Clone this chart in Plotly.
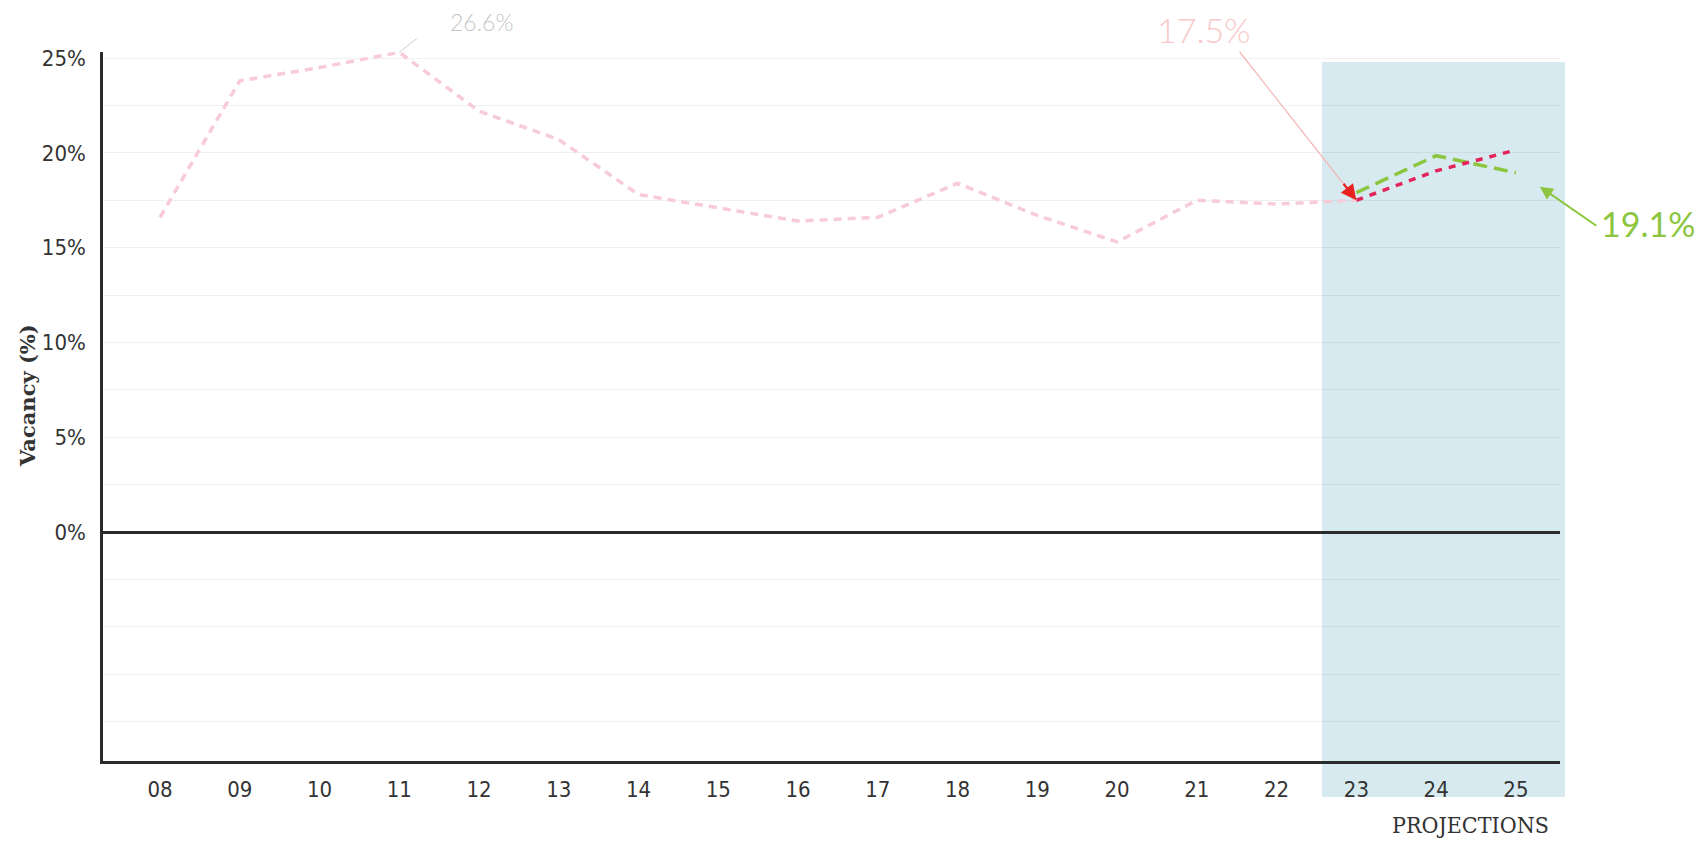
import plotly.graph_objects as go

years = ['08', '09', '10', '11', '12', '13', '14', '15', '16', '17', '18', '19',
         '20', '21', '22', '23', '24', '25']
history = [16.6, 23.8, 24.5, 25.3, 22.2, 20.7, 17.8, 17.1, 16.4, 16.6, 18.4, 16.7,
           15.3, 17.5, 17.3, 17.5, None, None]
proj_red = [None] * 15 + [17.5, 19.05, 20.15]
proj_green = [None] * 15 + [17.9, 19.85, 18.95]

grid_vals = [-10, -7.5, -5, -2.5, 0, 2.5, 5, 7.5, 10, 12.5, 15, 17.5, 20, 22.5, 25]
grid_text = ['', '', '', '', '0%', '', '5%', '', '10%', '', '15%', '', '20%', '', '25%']

# page body has an 8px margin: work in reference pixels and subtract it
OFF = 8
W, H = 1702 - 2 * OFF, 846 - 2 * OFF
L_PX, R_PX, T_PX, B_PX = 103, 1560, 52, 761   # plot area edges in reference pixels
ML, MT = L_PX - OFF, T_PX - OFF
MR, MB = W - (R_PX - OFF), H - (B_PX - OFF)
PW, PH = R_PX - L_PX, B_PX - T_PX


def px(x):
    return (x - L_PX) / PW


def py(y):
    return (B_PX - y) / PH


fig = go.Figure()
fig.add_trace(go.Scatter(x=years, y=history, mode='lines',
                         line=dict(color='#f7cbd8', width=3.5, dash='8px,6px'),
                         hoverinfo='skip'))
fig.add_trace(go.Scatter(x=years, y=proj_green, mode='lines',
                         line=dict(color='#8cc63f', width=3.5, dash='14px,7px'),
                         hoverinfo='skip'))
fig.add_trace(go.Scatter(x=years, y=proj_red, mode='lines',
                         line=dict(color='#e3245a', width=3.5, dash='7px,7px'),
                         hoverinfo='skip'))

shapes = [
    dict(type='rect', xref='paper', yref='paper', x0=px(1322), x1=px(1565),
         y0=py(797), y1=py(62), fillcolor='#d6eaf0', line=dict(width=0), layer='below'),
]

TXT = '#333333'
i11, i23, i25 = years.index('11'), years.index('23'), years.index('25')


def label(text, x, y, size, color, family='Lato', weight=None, angle=0):
    f = dict(family=family, size=size, color=color)
    if weight:
        f['weight'] = weight
    return dict(text=text, xref='paper', yref='paper', x=px(x), y=py(y),
                xanchor='center', yanchor='middle', showarrow=False, borderpad=0,
                textangle=angle, font=f)


annotations = [
    label('Vacancy (%)', 27, 396, 21, TXT, family='DejaVu Serif', weight='bold', angle=-90),
    label('PROJECTIONS', 1470, 825, 23, TXT, family='DejaVu Serif Condensed, DejaVu Serif'),
    label('26.6%', 481, 22, 23, '#c6c6c6', weight=300),
    dict(text='', x=i11, y=history[i11], ax=19, ay=-15, showarrow=True, arrowhead=0,
         arrowcolor='#cccccc', arrowwidth=1),
    label('17.5%', 1204, 29, 34, '#f8c9c9', weight=300),
    dict(text='', x=i23, y=proj_red[i23], ax=-118, ay=-150, showarrow=True, arrowhead=0,
         arrowcolor='#f5b8b8', arrowwidth=1.3),
    dict(text='', x=i23, y=proj_red[i23], ax=-14, ay=-18, showarrow=True, arrowhead=2,
         arrowsize=1.4, arrowcolor='#e8231f', arrowwidth=2.2),
    label('19.1%', 1648, 224, 34, '#8cc63f'),
    dict(text='', x=i25, y=proj_green[i25], xshift=24, yshift=-14, ax=58, ay=40,
         showarrow=True, arrowhead=2, arrowsize=1.3, arrowcolor='#8cc63f', arrowwidth=2),
]

fig.update_layout(
    width=W, height=H,
    margin=dict(l=ML, r=MR, t=MT, b=MB),
    paper_bgcolor='white', plot_bgcolor='rgba(0,0,0,0)',
    showlegend=False,
    shapes=shapes, annotations=annotations,
    xaxis=dict(type='category', range=[-0.715, 17.553], showgrid=False,
               showline=True, linecolor='#2b2b2b', linewidth=2.5, ticks='',
               ticklabelstandoff=7,
               tickfont=dict(family='Liberation Sans Narrow, DejaVu Sans Condensed, sans-serif',
                             size=22, color=TXT),
               zeroline=False, fixedrange=True),
    yaxis=dict(range=[-12.08, 25.32], tickvals=grid_vals, ticktext=grid_text,
               showgrid=True, gridcolor='rgba(0,0,0,0.06)', gridwidth=1,
               showline=True, linecolor='#2b2b2b', linewidth=2.5, ticks='',
               zeroline=True, zerolinecolor='#2b2b2b', zerolinewidth=2.5,
               ticklabelstandoff=10,
               tickfont=dict(family='Liberation Sans Narrow, DejaVu Sans Condensed, sans-serif',
                             size=22, color=TXT),
               fixedrange=True),
)

fig.write_html('out.html')
